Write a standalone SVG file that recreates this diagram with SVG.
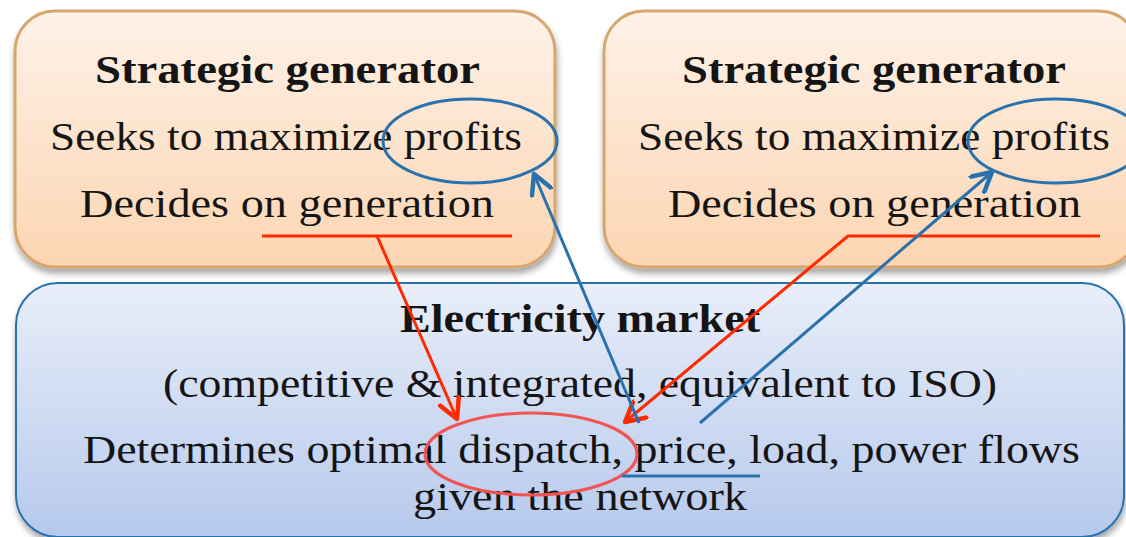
<svg xmlns="http://www.w3.org/2000/svg" width="1126" height="537" viewBox="0 0 1126 537">
  <defs>
    <linearGradient id="peach" x1="0" y1="0" x2="0" y2="1">
      <stop offset="0" stop-color="#fef2e8"/>
      <stop offset="1" stop-color="#fcd5b2"/>
    </linearGradient>
    <linearGradient id="sky" x1="0" y1="0" x2="0" y2="1">
      <stop offset="0" stop-color="#e9eef9"/>
      <stop offset="1" stop-color="#b6c9ec"/>
    </linearGradient>
    <filter id="shadow" x="-5%" y="-5%" width="115%" height="120%">
      <feDropShadow dx="1" dy="5" stdDeviation="3" flood-color="#000" flood-opacity="0.35"/>
    </filter>
    <marker id="headRed" markerUnits="userSpaceOnUse" markerWidth="24" markerHeight="24" refX="14" refY="8" orient="auto" viewBox="0 0 16 16">
      <path d="M1,1 L14,8 L1,15" fill="none" stroke="#ff2a00" stroke-width="3" stroke-linecap="round" stroke-linejoin="round"/>
    </marker>
    <marker id="headBlue" markerUnits="userSpaceOnUse" markerWidth="24" markerHeight="24" refX="14" refY="8" orient="auto" viewBox="0 0 16 16">
      <path d="M1,1 L14,8 L1,15" fill="none" stroke="#2a72ad" stroke-width="3" stroke-linecap="round" stroke-linejoin="round"/>
    </marker>
  </defs>
  <style>
    .gen { fill: url(#peach); stroke: #d6a66e; stroke-width: 3; filter: url(#shadow); }
    .mkt { fill: url(#sky); stroke: #2a72ad; stroke-width: 2; filter: url(#shadow); }
    text { font-family: "Liberation Serif", "DejaVu Serif", serif; font-size: 41px; fill: #151515; text-anchor: start; }
    .b { font-weight: bold; }
    .red { fill: none; stroke: #ff2a00; stroke-width: 3; }
    .blue { fill: none; stroke: #2a72ad; stroke-width: 3; }
    .ring-red { fill: none; stroke: #f25454; stroke-width: 3; }
  </style>

  <rect width="1126" height="537" fill="#ffffff"/>

  <!-- left generator -->
  <g id="gen-left">
    <rect class="gen" x="15" y="11" width="540" height="256" rx="40" ry="40"/>
    <text class="b" x="95" y="83" textLength="385" lengthAdjust="spacingAndGlyphs">Strategic generator</text>
    <text x="50" y="150" textLength="472" lengthAdjust="spacingAndGlyphs">Seeks to maximize profits</text>
    <text x="80" y="217" textLength="414" lengthAdjust="spacingAndGlyphs">Decides on generation</text>
  </g>

  <!-- right generator -->
  <g id="gen-right">
    <rect class="gen" x="604" y="11" width="535" height="256" rx="40" ry="40"/>
    <text class="b" x="682" y="83" textLength="384" lengthAdjust="spacingAndGlyphs">Strategic generator</text>
    <text x="638" y="150" textLength="472" lengthAdjust="spacingAndGlyphs">Seeks to maximize profits</text>
    <text x="668" y="217" textLength="413" lengthAdjust="spacingAndGlyphs">Decides on generation</text>
  </g>

  <!-- market -->
  <g id="market">
    <rect class="mkt" x="16" y="283" width="1108" height="254" rx="42" ry="42"/>
    <text class="b" x="400" y="332" textLength="360" lengthAdjust="spacingAndGlyphs">Electricity market</text>
    <text x="163" y="397" textLength="834" lengthAdjust="spacingAndGlyphs">(competitive &amp; integrated, equivalent to ISO)</text>
    <text x="83" y="463" textLength="997" lengthAdjust="spacingAndGlyphs">Determines optimal dispatch, price, load, power flows</text>
    <text x="413" y="510" textLength="334" lengthAdjust="spacingAndGlyphs">given the network</text>
  </g>

  <!-- connectors and highlights -->
  <g id="connectors">
    <ellipse class="blue" cx="470" cy="141" rx="87" ry="42"/>
    <ellipse class="blue" cx="1056" cy="141" rx="88" ry="42"/>
    <ellipse class="ring-red" cx="531" cy="454" rx="106" ry="41"/>
    <line class="blue" x1="622" y1="476" x2="760" y2="476"/>

    <line class="red" x1="262" y1="236" x2="512" y2="236"/>
    <line class="red" x1="377" y1="236" x2="457" y2="419" marker-end="url(#headRed)"/>

    <path class="red" d="M1100,236 L848,236 L625,422" marker-end="url(#headRed)"/>

    <line class="blue" x1="639" y1="423" x2="534" y2="174" marker-end="url(#headBlue)"/>
    <line class="blue" x1="700" y1="423" x2="992" y2="172" marker-end="url(#headBlue)"/>
  </g>
</svg>
